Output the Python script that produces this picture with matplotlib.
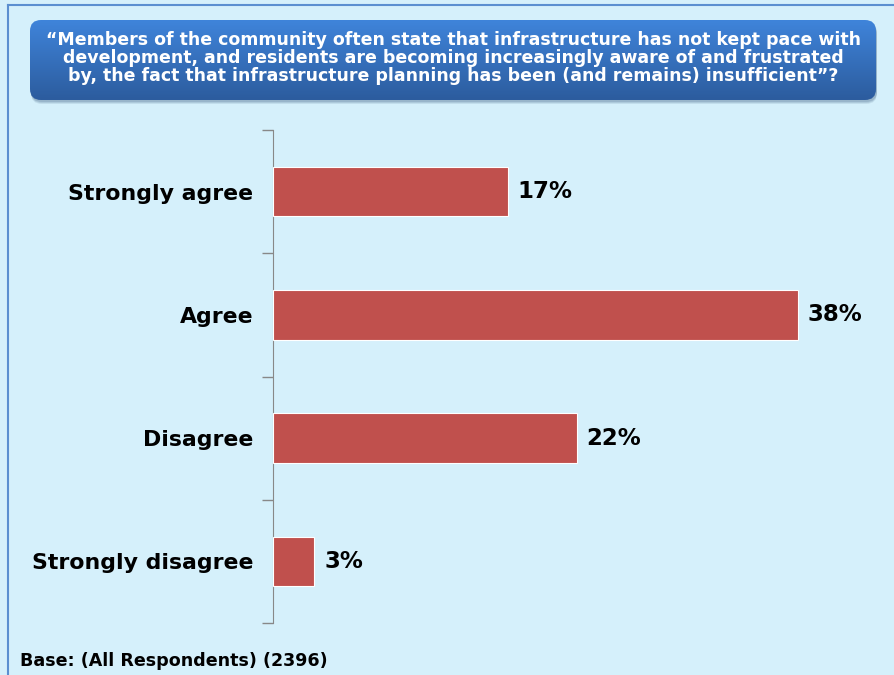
import numpy as np
import matplotlib.pyplot as plt
from matplotlib.patches import FancyBboxPatch
from matplotlib.colors import LinearSegmentedColormap

categories = ["Strongly agree", "Agree", "Disagree", "Strongly disagree"]
values = [17, 38, 22, 3]
title = ("\u201cMembers of the community often state that infrastructure has not kept pace with\n"
         "development, and residents are becoming increasingly aware of and frustrated\n"
         "by, the fact that infrastructure planning has been (and remains) insufficient\u201d?")
base_note = "Base: (All Respondents) (2396)"

W, H = 894, 675
bg = "#D5F0FB"
fig = plt.figure(figsize=(W / 100, H / 100), dpi=100)
fig.patch.set_facecolor(bg)

# outer frame (left / top border)
fig.add_artist(plt.Line2D([8 / W, 8 / W], [0, 1 - 5 / H], color="#5B8FD0", lw=1.5))
fig.add_artist(plt.Line2D([8 / W, 1], [1 - 5 / H, 1 - 5 / H], color="#5B8FD0", lw=1.5))

# title box, drawn in an axes whose data units are pixels
gx0, gy0, gx1, gy1 = 24, 14, 884, 110
gax = fig.add_axes([gx0 / W, 1 - gy1 / H, (gx1 - gx0) / W, (gy1 - gy0) / H])
gax.axis("off")
bx0, by0, bx1, by1 = 30, 20, 876, 100
for k, a in [(4, 0.15), (3, 0.2), (2, 0.25)]:
    gax.add_patch(FancyBboxPatch((bx0 + 1, by0 + k), bx1 - bx0, by1 - by0,
                                 boxstyle="round,pad=0,rounding_size=11",
                                 facecolor="#5a7a98", edgecolor="none", alpha=a, zorder=1))
box = FancyBboxPatch((bx0, by0), bx1 - bx0, by1 - by0, boxstyle="round,pad=0,rounding_size=11",
                     facecolor="none", edgecolor="none")
gax.add_patch(box)
grad = np.linspace(0, 1, 100).reshape(-1, 1)
cmap = LinearSegmentedColormap.from_list("tb", ["#3F84DA", "#2C5C9E"])
im = gax.imshow(grad, aspect="auto", cmap=cmap, extent=[bx0, bx1, by1, by0], origin="upper",
                zorder=2)
im.set_clip_path(box)
gax.set_xlim(gx0, gx1)
gax.set_ylim(gy1, gy0)
gax.text((bx0 + bx1) / 2, 58, title, ha="center", va="center", color="white",
         fontsize=12.5, fontweight="bold", linespacing=1.0, zorder=3)

# bar chart
ax_l, ax_r, ax_t, ax_b = 273, 870, 130, 623
ax = fig.add_axes([ax_l / W, 1 - ax_b / H, (ax_r - ax_l) / W, (ax_b - ax_t) / H])
ax.set_facecolor("none")
y = np.arange(len(categories))
ax.barh(y, values, height=0.4, color="#C0504D", edgecolor="white", linewidth=0.8, zorder=3)
ax.set_ylim(len(categories) - 0.5, -0.5)
ax.set_xlim(0, (ax_r - ax_l) / 13.82)
for yi, v in zip(y, values):
    ax.text(v + 0.7, yi, f"{v}%", va="center", ha="left", fontsize=16.5, fontweight="bold")

ax.set_yticks(np.arange(-0.5, len(categories), 1))
ax.set_yticklabels([])
ax.set_yticks(y, minor=True)
ax.set_yticklabels(categories, minor=True, fontsize=15.8, fontweight="bold")
ax.tick_params(axis="y", which="major", length=8, color="#888888", width=1)
ax.tick_params(axis="y", which="minor", length=0, pad=14)
ax.set_xticks([])
for s in ["top", "right", "bottom"]:
    ax.spines[s].set_visible(False)
ax.spines["left"].set_color("#888888")

fig.text(20 / W, 1 - 661 / H, base_note, ha="left", va="center", fontsize=12.6, fontweight="bold")

fig.savefig("out.png", dpi=100, facecolor=bg)
